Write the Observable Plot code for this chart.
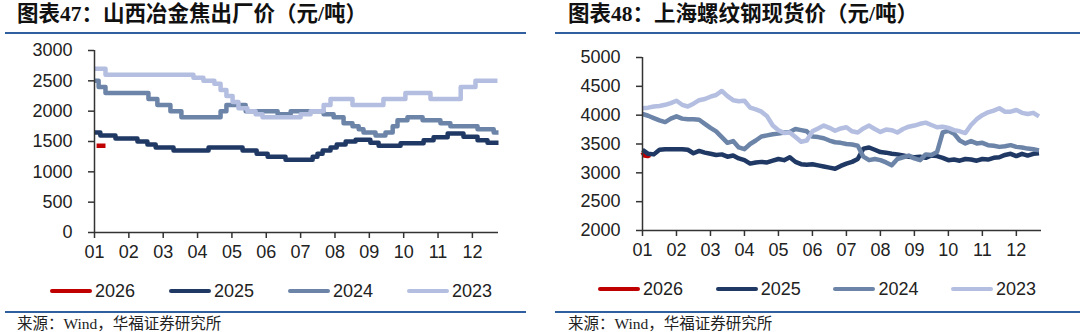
<!DOCTYPE html>
<html><head><meta charset="utf-8">
<script src="https://cdn.jsdelivr.net/npm/d3@7"></script>
<script src="https://cdn.jsdelivr.net/npm/@observablehq/plot@0.6"></script>
<style>
body{margin:0;background:#fff;width:1080px;height:332px;overflow:hidden;position:relative;font-family:"Liberation Sans",Arial,sans-serif;}
.abs{position:absolute;}
.title{font-family:"Liberation Serif","Noto Sans CJK SC",serif;font-weight:bold;font-size:21.5px;line-height:24px;color:#111;white-space:nowrap;}
.rule{height:2px;background:#2f5f9f;}
.caption{font-family:"Liberation Serif","Noto Sans CJK SC",serif;font-size:15.5px;line-height:18px;color:#222;white-space:nowrap;}
.legend{display:flex;align-items:center;font-size:18px;line-height:20px;color:#222;}
.item{display:flex;align-items:center;}
.sw{width:42px;height:4px;border-radius:2px;margin-right:3px;}
</style></head><body>
<script>
// ---------- data ----------
const seriesNames = ["2026", "2025", "2024", "2023"];
const seriesColors = ["#c00000", "#1f3864", "#6b84a7", "#b4bee0"];
const monthTicks = [1,2,3,4,5,6,7,8,9,10,11,12];

// 图表47 山西冶金焦出厂价 — [month position, 元/吨] step changes
const coke2026 = [[1.06,1430],[1.32,1430]];
const coke2025 = [[1.00,1650],[1.17,1600],[1.61,1550],[2.25,1500],[2.54,1450],[2.78,1400],[3.30,1350],[4.32,1400],[5.31,1350],[5.72,1300],[6.04,1250],[6.56,1200],[7.35,1250],[7.49,1300],[7.64,1350],[7.87,1400],[8.05,1450],[8.31,1500],[8.60,1530],[9.03,1480],[9.27,1430],[9.91,1470],[10.58,1520],[10.87,1570],[11.28,1630],[11.74,1580],[12.15,1520],[12.44,1480],[12.76,1480]];
const coke2024 = [[1.00,2500],[1.12,2400],[1.32,2300],[2.57,2200],[2.83,2100],[3.21,2000],[3.53,1900],[4.67,2000],[4.84,2100],[5.40,2000],[6.33,1950],[6.71,2000],[7.67,1950],[7.96,1900],[8.25,1800],[8.51,1750],[8.69,1700],[8.83,1650],[9.18,1600],[9.47,1650],[9.68,1750],[9.82,1850],[10.11,1900],[10.55,1850],[11.07,1800],[11.36,1750],[12.15,1700],[12.62,1650],[12.76,1650]];
const coke2023 = [[1.00,2700],[1.32,2600],[3.88,2550],[4.17,2500],[4.49,2450],[4.67,2350],[4.84,2250],[5.02,2150],[5.19,2050],[5.45,2000],[5.69,1950],[5.89,1900],[7.00,1950],[7.29,2000],[7.67,2100],[7.87,2200],[8.51,2100],[9.41,2200],[10.05,2300],[10.78,2200],[11.66,2400],[12.09,2500],[12.73,2500]];
const cokeTicks = [0,500,1000,1500,2000,2500,3000];

// 图表48 上海螺纹钢现货价 — sampled every 1/6 month from 01
const rebarMonths = d3.range(71).map(i => 1 + i / 6);
const rebar2026 = [[1.00,3360],[1.06,3300],[1.15,3290],[1.22,3310]];
const rebar2025 = [3400,3330,3320,3400,3410,3410,3410,3410,3400,3340,
  3380,3350,3330,3310,3320,3280,3300,3250,3220,3160,
  3180,3190,3180,3210,3240,3220,3270,3190,3150,3140,
  3150,3130,3110,3090,3070,3120,3160,3190,3240,3420,
  3440,3400,3360,3350,3330,3320,3300,3280,3270,3280,
  3260,3300,3290,3260,3220,3230,3210,3240,3230,3210,
  3240,3230,3260,3270,3310,3330,3290,3330,3300,3330,3340];
const rebar2024 = [4020,3990,3950,3910,3880,3940,3980,3940,3930,3930,
  3920,3850,3780,3720,3620,3520,3550,3440,3410,3500,
  3560,3630,3650,3670,3680,3700,3710,3760,3740,3720,
  3630,3620,3600,3560,3530,3520,3500,3490,3470,3280,
  3220,3240,3220,3180,3130,3240,3270,3300,3250,3220,
  3320,3310,3360,3700,3730,3680,3560,3510,3550,3510,
  3520,3480,3470,3450,3460,3480,3450,3440,3420,3410,3390];
const rebar2023 = [4120,4130,4150,4160,4180,4210,4250,4180,4150,4200,
  4260,4280,4320,4350,4420,4330,4260,4240,4250,4130,
  4100,4060,3980,3820,3740,3690,3700,3620,3540,3560,
  3720,3770,3820,3780,3730,3770,3790,3720,3700,3770,
  3820,3760,3710,3750,3740,3700,3760,3800,3820,3850,
  3870,3830,3790,3800,3780,3740,3720,3690,3830,3930,
  4000,4050,4080,4120,4060,4060,4090,4040,4020,4040,3980];
const rebarTicks = [2000,2500,3000,3500,4000,4500,5000];

// ---------- helpers ----------
const pad2 = d => String(d).padStart(2, "0");
const plain = d => String(d);
const zip = (xs, ys) => ys.map((v, i) => [xs[i], v]);

function chart({series, curve, yDomain, yTicks, xEnd, mt, mb, ml, mr}) {
  const lines = series.map((s, i) => Plot.line(s, {
    x: d => d[0], y: d => d[1], stroke: seriesColors[i], strokeWidth: 4.5,
    curve, strokeLinejoin: "round", strokeLinecap: "butt"
  }));
  return Plot.plot({
    width: 540, height: 228,
    marginTop: mt, marginBottom: mb, marginLeft: ml, marginRight: mr,
    style: {fontFamily: "'Liberation Sans', Arial, sans-serif", fontSize: "18px", color: "#222", background: "transparent", overflow: "visible"},
    x: {domain: [1, xEnd]},
    y: {domain: yDomain},
    marks: [
      ...lines,
      Plot.ruleX([1], {stroke: "#333", strokeWidth: 1.5}),
      Plot.ruleY([yDomain[0]], {stroke: "#333", strokeWidth: 1.5}),
      Plot.axisX({ticks: monthTicks, tickFormat: pad2, tickSize: 6, tickPadding: 7, label: null, strokeWidth: 1.5, stroke: "#333", fill: "#222"}),
      Plot.axisY({ticks: yTicks, tickFormat: plain, tickSize: 6, tickPadding: 16, label: null, strokeWidth: 1.5, stroke: "#333", fill: "#222"})
    ]
  });
}

function el(cls, style, text) {
  const d = document.createElement("div");
  d.className = cls;
  Object.assign(d.style, style);
  if (text != null) d.textContent = text;
  document.body.appendChild(d);
  return d;
}

function legend(left, top, step) {
  const lg = el("abs legend", {left: left + "px", top: top + "px"});
  seriesNames.forEach((n, i) => {
    const it = document.createElement("div");
    it.className = "item";
    it.style.width = step + "px";
    const sw = document.createElement("div");
    sw.className = "sw";
    sw.style.background = seriesColors[i];
    const t = document.createElement("span");
    t.textContent = n;
    it.appendChild(sw); it.appendChild(t);
    lg.appendChild(it);
  });
}

// ---------- left panel ----------
el("abs title", {left: "17px", top: "2px"}, "图表47：山西冶金焦出厂价（元/吨）");
el("abs rule", {left: "5px", top: "32px", width: "521px"});
const c1 = chart({
  series: [coke2026, coke2025, coke2024, coke2023], curve: "step-after",
  yDomain: [0, 3000], yTicks: cokeTicks, xEnd: 12.76,
  mt: 10, mb: 36, ml: 94, mr: 42
});
const w1 = el("abs", {left: "0px", top: "40px"});
w1.appendChild(c1);
legend(50, 281, 119);
el("abs rule", {left: "5px", top: "311px", width: "521px"});
el("abs caption", {left: "17px", top: "315px"}, "来源：Wind，华福证券研究所");

// ---------- right panel ----------
el("abs title", {left: "568px", top: "2px"}, "图表48：上海螺纹钢现货价（元/吨）");
el("abs rule", {left: "555px", top: "32px", width: "525px"});
const c2 = chart({
  series: [rebar2026, zip(rebarMonths, rebar2025), zip(rebarMonths, rebar2024), zip(rebarMonths, rebar2023)],
  curve: "linear",
  yDomain: [2000, 5000], yTicks: rebarTicks, xEnd: 12.74,
  mt: 17, mb: 38, ml: 102, mr: 39
});
const w2 = el("abs", {left: "540px", top: "40px"});
w2.appendChild(c2);
legend(598, 279, 117.7);
el("abs rule", {left: "555px", top: "311px", width: "525px"});
el("abs caption", {left: "568px", top: "315px"}, "来源：Wind，华福证券研究所");
</script>
</body></html>
